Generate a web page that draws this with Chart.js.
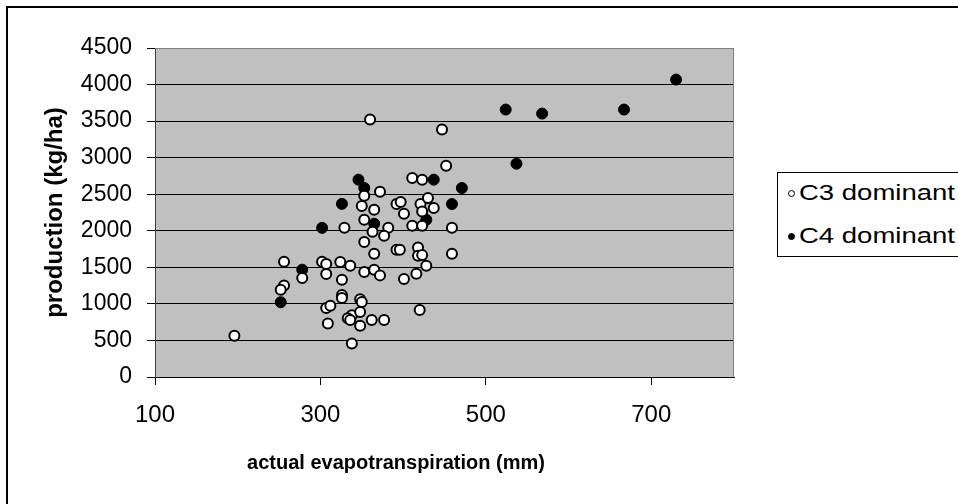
<!DOCTYPE html>
<html>
<head>
<meta charset="utf-8">
<script src="https://cdn.jsdelivr.net/npm/chart.js@4"></script>
<style>
    html, body { margin: 0; padding: 0; background: #fff; overflow: hidden; }
    #wrap { position: relative; width: 958px; height: 504px; }
    #frame { position: absolute; left: 6px; top: 6px; width: 2000px; height: 2000px; border: 2px solid #000; pointer-events: none; }
    canvas { position: absolute; left: 0; top: 0; }
    #legend {
        position: absolute; left: 777px; top: 172px; width: 300px; height: 74px;
        border: 1px solid #000; background: #fff;
        font-family: "Liberation Sans", Arial, sans-serif; font-size: 22px; color: #000;
        padding-top: 9px; box-sizing: content-box;
    }
    #legend .row { height: 22px; line-height: 22px; display: flex; align-items: center; padding-left: 10px; }
    #legend .row + .row { margin-top: 21px; }
    #legend .mark { width: 7px; height: 7px; border-radius: 50%; box-sizing: border-box; margin-right: 4px; }
    #legend .txt { display: inline-block; transform: scaleX(1.25); transform-origin: left center; white-space: nowrap; }
</style>
</head>
<body>
<div id="wrap">
    <div id="frame"></div>
    <canvas id="chart" width="958" height="504"></canvas>
    <div id="legend"></div>
</div>
<script>
// values
const c3X = [196, 256, 256, 252, 278, 329, 302, 307, 307, 324, 326, 326, 326, 307, 312, 309, 336, 338, 333, 336, 348, 338,
    360, 447, 452, 372, 411, 423, 353, 350, 365, 392, 397, 401, 421, 430, 437, 423, 353, 363, 382, 377, 411, 423, 459,
    353, 365, 392, 396, 418, 418, 423, 459, 428, 416, 401, 353, 365, 372, 348, 350, 348, 362, 377, 420];
const c3Y = [565, 1575, 1251, 1192, 1354, 2040, 1576, 1547, 1410, 1572, 1329, 1123, 1080, 943, 975, 733, 1521, 845, 804, 781, 701, 457,
    3521, 3384, 2890, 2534, 2721, 2699, 2479, 2338, 2288, 2366, 2393, 2233, 2366, 2448, 2310, 2265, 2151, 1986, 2041, 1932, 2068, 2068, 2041,
    1845, 1685, 1740, 1740, 1771, 1658, 1667, 1685, 1521, 1411, 1340, 1436, 1466, 1390, 1064, 1027, 888, 781, 781, 918];

const c4X = [252, 278, 302, 326, 346, 353, 365, 428, 437, 459, 471, 524, 537, 568, 667, 730];
const c4Y = [1023, 1468, 2040, 2368, 2699, 2585, 2096, 2151, 2699, 2366, 2585, 3658, 2918, 3603, 3658, 4068];

const seriesNames = ['C3 dominant', 'C4 dominant'];
const xTicks = [100, 300, 500, 700];
const yTicks = [0, 500, 1000, 1500, 2000, 2500, 3000, 3500, 4000, 4500];
const xTitle = 'actual evapotranspiration (mm)';
const yTitle = 'production (kg/ha)';

const toPoints = (xs, ys) => xs.map((x, i) => ({ x: x, y: ys[i] }));

// gray plot area with a gray frame on top and right, like Excel
const plotArea = {
    id: 'plotArea',
    beforeDraw(chart) {
        const { ctx, chartArea: a } = chart;
        ctx.save();
        ctx.fillStyle = '#c0c0c0';
        ctx.fillRect(a.left, a.top, a.right - a.left, a.bottom - a.top);
        ctx.restore();
    },
    beforeDatasetsDraw(chart) {
        const { ctx, chartArea: a } = chart;
        ctx.save();
        ctx.strokeStyle = '#808080';
        ctx.lineWidth = 1;
        ctx.beginPath();
        ctx.moveTo(a.left, Math.round(a.top) + 0.5);
        ctx.lineTo(Math.round(a.right) - 0.5, Math.round(a.top) + 0.5);
        ctx.lineTo(Math.round(a.right) - 0.5, a.bottom);
        ctx.stroke();
        ctx.restore();
    }
};

// the x title in the original sits left of the plot centre (centred on plot + legend gap)
const xAxisTitle = {
    id: 'xAxisTitle',
    afterDraw(chart) {
        const { ctx } = chart;
        ctx.save();
        ctx.font = 'bold 20px "Liberation Sans", Arial, sans-serif';
        ctx.fillStyle = '#000';
        ctx.textAlign = 'center';
        ctx.textBaseline = 'middle';
        ctx.fillText(xTitle, 396, 463);
        ctx.restore();
    }
};

const chart = new Chart(document.getElementById('chart'), {
    type: 'scatter',
    data: {
        datasets: [{
            label: seriesNames[0],
            data: toPoints(c3X, c3Y),
            backgroundColor: '#fff',
            borderColor: '#000',
            borderWidth: 2,
            pointRadius: 5
        }, {
            label: seriesNames[1],
            data: toPoints(c4X, c4Y),
            backgroundColor: '#000',
            borderColor: '#000',
            borderWidth: 1,
            pointRadius: 5.5
        }]
    },
    options: {
        responsive: false,
        animation: false,
        layout: { padding: { left: 0, top: 48, right: 224, bottom: 0 } },
        plugins: {
            legend: { display: false },
            tooltip: { enabled: false }
        },
        scales: {
            x: {
                type: 'linear',
                min: 100,
                max: 800,
                afterBuildTicks: (axis) => { axis.ticks = xTicks.map(v => ({ value: v })); },
                afterFit: (axis) => { axis.height = 127; },
                grid: { drawOnChartArea: false, drawTicks: true, tickLength: 8, tickColor: '#000', color: '#000' },
                border: { color: '#000', width: 1 },
                ticks: {
                    color: '#000', padding: 16, maxRotation: 0,
                    font: { family: 'Liberation Sans', size: 24 },
                    callback: (v) => String(v)
                },
                title: { display: false }
            },
            y: {
                min: 0,
                max: 4500,
                afterBuildTicks: (axis) => { axis.ticks = yTicks.map(v => ({ value: v })); },
                afterFit: (axis) => { axis.width = 155; },
                grid: {
                    color: (c) => (c.tick && c.tick.value === 4500) ? '#808080' : '#000',
                    tickColor: '#000',
                    tickLength: 8,
                    lineWidth: 1
                },
                border: { color: '#404040', width: 1 },
                ticks: {
                    color: '#000', padding: 15,
                    font: { family: 'Liberation Sans', size: 23 },
                    callback: (v) => String(v)
                },
                title: {
                    display: true,
                    text: yTitle,
                    color: '#000',
                    padding: { top: 41, bottom: 0 },
                    font: { family: 'Liberation Sans', size: 24, weight: 'bold' }
                }
            }
        }
    },
    plugins: [plotArea, xAxisTitle]
});

// legend in the style of the Excel box, built from the chart's datasets
const legendEl = document.getElementById('legend');
chart.data.datasets.forEach((ds) => {
    const row = document.createElement('div');
    row.className = 'row';
    const mark = document.createElement('span');
    mark.className = 'mark';
    mark.style.background = ds.backgroundColor;
    mark.style.border = '1.5px solid ' + ds.borderColor;
    const txt = document.createElement('span');
    txt.className = 'txt';
    txt.textContent = ds.label;
    row.appendChild(mark);
    row.appendChild(txt);
    legendEl.appendChild(row);
});
</script>
</body>
</html>
